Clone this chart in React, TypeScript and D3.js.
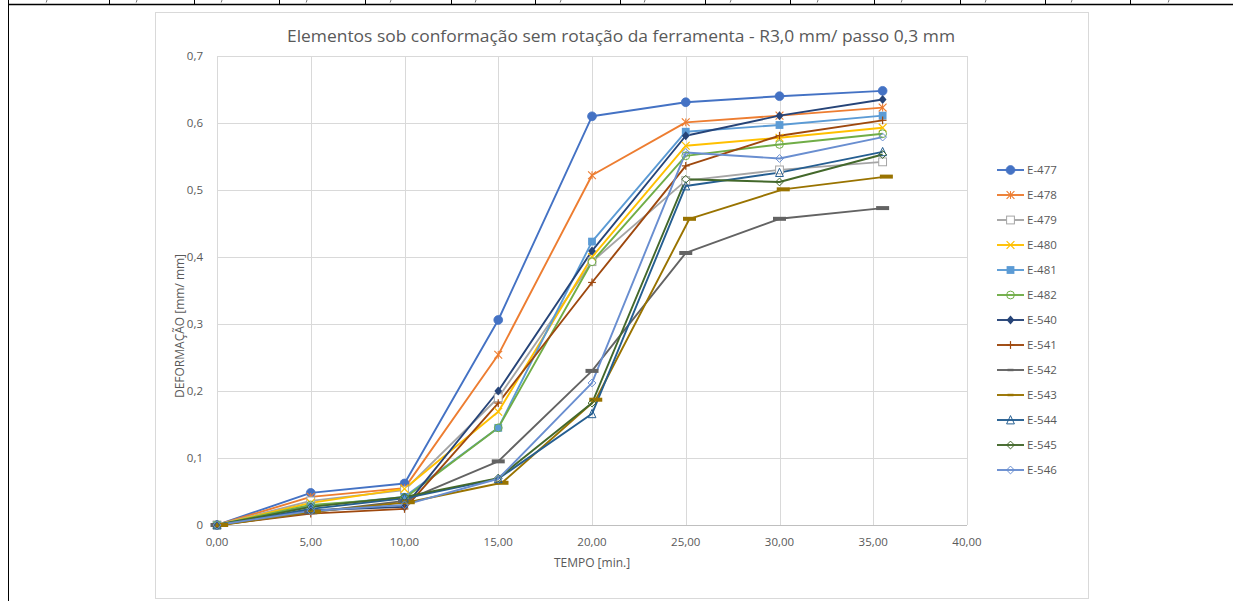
import React from 'react';
import * as d3 from 'd3';

// ---- data ----
const times = [0, 5, 10, 15, 20, 25, 30, 35.5];
const timesE543 = [0.25, 5.2, 10.2, 15.2, 20.2, 25.2, 30.2, 35.7];

const e477 = [0, 0.048, 0.062, 0.306, 0.610, 0.631, 0.640, 0.648];
const e478 = [0, 0.042, 0.055, 0.254, 0.522, 0.601, 0.611, 0.623];
const e479 = [0, 0.036, 0.052, 0.190, 0.393, 0.514, 0.530, 0.542];
const e480 = [0, 0.033, 0.054, 0.169, 0.400, 0.566, 0.578, 0.593];
const e481 = [0, 0.028, 0.042, 0.145, 0.423, 0.587, 0.597, 0.611];
const e482 = [0, 0.030, 0.040, 0.145, 0.393, 0.551, 0.568, 0.584];
const e540 = [0, 0.022, 0.027, 0.200, 0.409, 0.581, 0.611, 0.635];
const e541 = [0, 0.017, 0.024, 0.182, 0.362, 0.536, 0.581, 0.604];
const e542 = [0, 0.019, 0.036, 0.095, 0.230, 0.406, 0.457, 0.473];
const e543 = [0, 0.020, 0.034, 0.063, 0.187, 0.457, 0.501, 0.520];
const e544 = [0, 0.024, 0.040, 0.069, 0.166, 0.506, 0.526, 0.557];
const e545 = [0, 0.027, 0.042, 0.070, 0.182, 0.516, 0.512, 0.553];
const e546 = [0, 0.021, 0.030, 0.069, 0.212, 0.556, 0.547, 0.579];

const seriesNames = ['E-477', 'E-478', 'E-479', 'E-480', 'E-481', 'E-482', 'E-540', 'E-541', 'E-542', 'E-543', 'E-544', 'E-545', 'E-546'];
const seriesValues = [e477, e478, e479, e480, e481, e482, e540, e541, e542, e543, e544, e545, e546];
const seriesTimes = [times, times, times, times, times, times, times, times, times, timesE543, times, times, times];
const seriesColors = ['#4472C4', '#ED7D31', '#A5A5A5', '#FFC000', '#5B9BD5', '#70AD47', '#264478', '#9E480E', '#636363', '#997300', '#255E91', '#43682B', '#698ED0'];
const seriesMarkers = ['circle', 'star', 'openSquare', 'x', 'square', 'openCircle', 'diamond', 'plus', 'dash', 'dash', 'openTriangle', 'openDiamond', 'openDiamond'];

const xTicks = [0, 5, 10, 15, 20, 25, 30, 35, 40];
const yTicks = [0, 0.1, 0.2, 0.3, 0.4, 0.5, 0.6, 0.7];

const titleText = 'Elementos sob conformação sem rotação da ferramenta - R3,0 mm/ passo 0,3 mm';
const xTitle = 'TEMPO [min.]';
const yTitle = 'DEFORMAÇÃO [mm/ mm]';

const tableLines = [109, 194, 279, 365, 451, 535, 620, 705, 790, 874, 960, 1045, 1130];
const tableMarks = [47, 137, 222, 307, 391, 476, 561, 645, 731, 818, 902, 986, 1072, 1169];

const FONT = '"Open Sans", "DejaVu Sans", sans-serif';
const TXT = '#595959';

function Marker({ type, cx, cy, color, legend }: { type: string; cx: number; cy: number; color: string; legend?: boolean }) {
  const s = 3.9;
  switch (type) {
    case 'circle':
      return <circle cx={cx} cy={cy} r={s + 0.5} fill={color} stroke={color} strokeWidth={0.8} />;
    case 'openCircle':
      return <circle cx={cx} cy={cy} r={s} fill="none" stroke={color} strokeWidth={1} />;
    case 'square':
      return <rect x={cx - s} y={cy - s} width={2 * s} height={2 * s} fill={color} />;
    case 'openSquare':
      return <rect x={cx - s} y={cy - s} width={2 * s} height={2 * s} fill="white" stroke={color} strokeWidth={1} />;
    case 'diamond':
      return <polygon points={`${cx},${cy - s - 0.6} ${cx + s},${cy} ${cx},${cy + s + 0.6} ${cx - s},${cy}`} fill={color} />;
    case 'openDiamond':
      return <polygon points={`${cx},${cy - s} ${cx + s},${cy} ${cx},${cy + s} ${cx - s},${cy}`} fill="none" stroke={color} strokeWidth={1} />;
    case 'openTriangle':
      return <polygon points={`${cx},${cy - s - 0.5} ${cx + s},${cy + s} ${cx - s},${cy + s}`} fill="none" stroke={color} strokeWidth={1} />;
    case 'x':
      return (
        <g stroke={color} strokeWidth={1.2}>
          <line x1={cx - s} y1={cy - s} x2={cx + s} y2={cy + s} />
          <line x1={cx - s} y1={cy + s} x2={cx + s} y2={cy - s} />
        </g>
      );
    case 'star':
      return (
        <g stroke={color} strokeWidth={1.1}>
          <line x1={cx - s} y1={cy - s} x2={cx + s} y2={cy + s} />
          <line x1={cx - s} y1={cy + s} x2={cx + s} y2={cy - s} />
          <line x1={cx} y1={cy - s} x2={cx} y2={cy + s} />
        </g>
      );
    case 'plus':
      return (
        <g stroke={color} strokeWidth={1.2}>
          <line x1={cx - s} y1={cy} x2={cx + s} y2={cy} />
          <line x1={cx} y1={cy - s} x2={cx} y2={cy + s} />
        </g>
      );
    case 'dash':
      return legend ? (
        <rect x={cx - 3} y={cy - 1.2} width={6} height={2.4} fill={color} />
      ) : (
        <rect x={cx - 6.5} y={cy - 2} width={13} height={4} fill={color} />
      );
    default:
      return null;
  }
}

export default function App() {
  const x = d3.scaleLinear().domain([0, 40]).range([217, 967]);
  const y = d3.scaleLinear().domain([0, 0.7]).range([525, 56]);
  const fmtX = (v: number) => v.toFixed(2).replace('.', ',');
  const fmtY = (v: number) => (v === 0 ? '0' : d3.format('.1f')(v).replace('.', ','));

  const series = seriesNames.map((name, i) => ({
    name,
    color: seriesColors[i],
    marker: seriesMarkers[i],
    pts: seriesValues[i].map((v, j) => [seriesTimes[i][j], v] as [number, number]),
  }));

  const line = d3
    .line<[number, number]>()
    .x((d) => x(d[0]))
    .y((d) => y(d[1]));

  const legendX = 997;
  const legendY0 = 170;
  const legendStep = 25;

  return (
    <div style={{ position: 'absolute', left: 0, top: 0 }}>
      <svg width={1233} height={601} style={{ display: 'block', background: 'white' }}>
        {/* table fragments */}
        <line x1={8} y1={4.5} x2={1233} y2={4.5} stroke="#000" strokeWidth={1.6} />
        <line x1={8.5} y1={0} x2={8.5} y2={601} stroke="#000" strokeWidth={1} />
        {tableLines.map((tx) => (
          <line key={tx} x1={tx + 0.5} y1={0} x2={tx + 0.5} y2={4.5} stroke="#000" strokeWidth={1} />
        ))}
        {tableMarks.map((tx) => (
          <line key={'m' + tx} x1={tx} y1={0} x2={tx - 0.8} y2={2.5} stroke="#555" strokeWidth={0.8} />
        ))}

        {/* chart frame */}
        <rect x={155.5} y={12.5} width={933} height={586} fill="white" stroke="#d9d9d9" strokeWidth={1} />

        {/* title */}
        <text x={621} y={42} textAnchor="middle" fontFamily={FONT} fontSize={16.5} fill={TXT} textLength={668} lengthAdjust="spacingAndGlyphs">
          {titleText}
        </text>

        {/* grid */}
        {yTicks.map((t) => (
          <line key={'gy' + t} x1={217} x2={967} y1={Math.round(y(t)) + 0.5} y2={Math.round(y(t)) + 0.5} stroke={t === 0 ? '#bfbfbf' : '#d9d9d9'} strokeWidth={1} />
        ))}
        {xTicks.map((t) => (
          <line key={'gx' + t} y1={56} y2={525} x1={Math.round(x(t)) + 0.5} x2={Math.round(x(t)) + 0.5} stroke="#d9d9d9" strokeWidth={1} />
        ))}

        {/* tick labels */}
        {yTicks.map((t) => (
          <text key={'ly' + t} x={203} y={y(t) + 4} textAnchor="end" fontFamily={FONT} fontSize={11.5} fill={TXT}>
            {fmtY(t)}
          </text>
        ))}
        {xTicks.map((t) => (
          <text key={'lx' + t} x={x(t)} y={546} textAnchor="middle" fontFamily={FONT} fontSize={11.5} fill={TXT}>
            {fmtX(t)}
          </text>
        ))}

        {/* axis titles */}
        <text x={592} y={567} textAnchor="middle" fontFamily={FONT} fontSize={12} fill={TXT}>
          {xTitle}
        </text>
        <text transform="translate(184,326) rotate(-90)" textAnchor="middle" fontFamily={FONT} fontSize={12} fill={TXT}>
          {yTitle}
        </text>

        {/* series */}
        {series.map((s) => (
          <path key={'p' + s.name} d={line(s.pts) || ''} fill="none" stroke={s.color} strokeWidth={1.9} strokeLinejoin="round" />
        ))}
        {series.map((s) => (
          <g key={'m' + s.name}>
            {s.pts.map((p, j) => (
              <Marker key={j} type={s.marker} cx={x(p[0])} cy={y(p[1])} color={s.color} />
            ))}
          </g>
        ))}

        {/* legend */}
        {series.map((s, i) => {
          const ly = legendY0 + i * legendStep;
          return (
            <g key={'lg' + s.name}>
              <line x1={legendX} x2={legendX + 27} y1={ly} y2={ly} stroke={s.color} strokeWidth={1.9} />
              <Marker type={s.marker} cx={legendX + 13.5} cy={ly} color={s.color} legend />
              <text x={legendX + 30} y={ly + 4} fontFamily={FONT} fontSize={11.5} fill={TXT}>
                {s.name}
              </text>
            </g>
          );
        })}
      </svg>
    </div>
  );
}
